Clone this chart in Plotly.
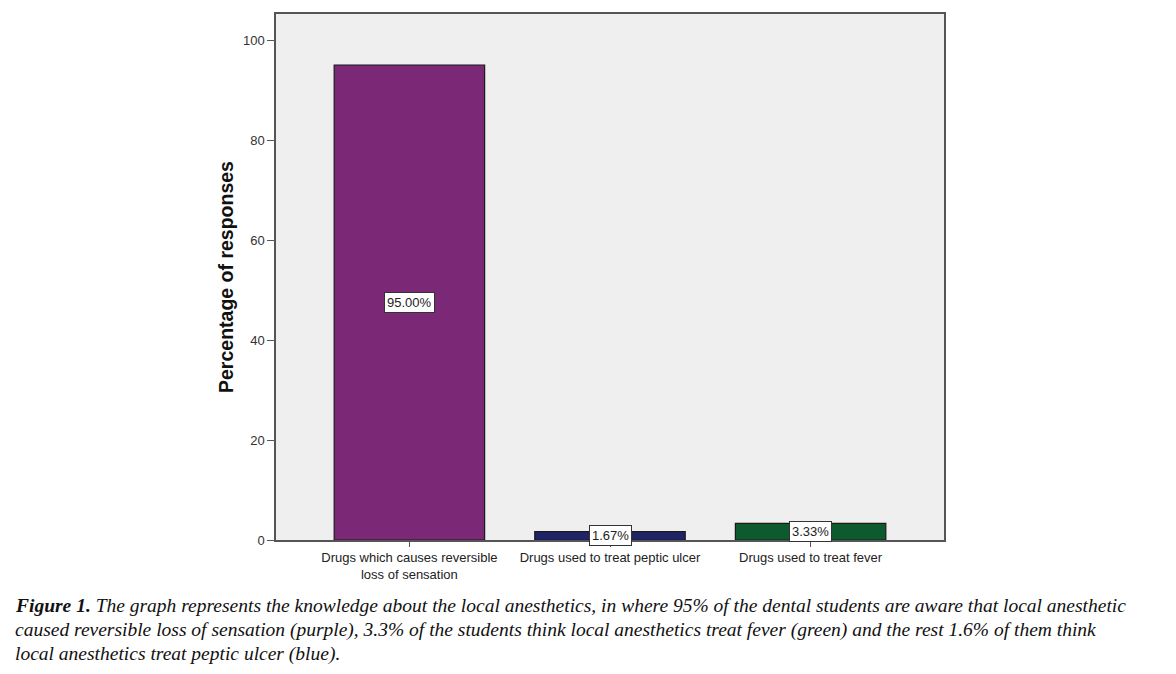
import plotly.graph_objects as go

categories = ["Drugs which causes reversible<br>loss of sensation",
              "Drugs used to treat peptic ulcer",
              "Drugs used to treat fever"]
values = [95.00, 1.67, 3.33]
labels = ["95.00%", "1.67%", "3.33%"]
colors = ["#7B2877", "#1F2468", "#0E5A2F"]
caption_lines = [
    "<b>Figure 1.</b> The graph represents the knowledge about the local anesthetics, in where 95% of the dental students are aware that local anesthetic",
    "caused reversible loss of sensation (purple), 3.3% of the students think local anesthetics treat fever (green) and the rest 1.6% of them think",
    "local anesthetics treat peptic ulcer (blue).",
]

W, H = 1176, 674
OFF = 8  # page body margin
L, R, T, B = 276 - OFF, 232 + OFF, 12 - OFF, 134 + OFF

fig = go.Figure()
fig.add_trace(go.Bar(
    x=list(range(len(categories))), y=values,
    marker=dict(color=colors, line=dict(color="#1a1a1a", width=1.2)),
    width=0.75, showlegend=False,
))

for i, (v, lab) in enumerate(zip(values, labels)):
    fig.add_annotation(
        x=i, y=max(v / 2, 0.7), text=lab, showarrow=False,
        font=dict(family="Arial, Liberation Sans", size=13, color="#222"),
        bgcolor="white", bordercolor="#333", borderwidth=1, borderpad=2,
    )

ys = [606, 630, 654]
for line, yp in zip(caption_lines, ys):
    fig.add_annotation(
        xref="paper", yref="paper",
        x=(13 - OFF - L) / (W - L - R), y=(H - B - (yp - OFF)) / (H - T - B),
        xanchor="left", yanchor="middle", showarrow=False, align="left",
        text="<i>" + line + "</i>",
        font=dict(family="Liberation Serif, Times New Roman", size=19.5, color="#111"),
    )

fig.update_layout(
    width=W, height=H,
    margin=dict(l=L, r=R, t=T, b=B, pad=0),
    paper_bgcolor="white", plot_bgcolor="#EFEFEF",
    xaxis=dict(
        range=[-0.665, 2.665],
        tickmode="array", tickvals=list(range(len(categories))), ticktext=categories,
        showgrid=False, zeroline=False,
        showline=True, linecolor="#555", linewidth=1.5, mirror=True,
        ticks="outside", ticklen=5, tickcolor="#555",
        tickfont=dict(family="Arial, Liberation Sans", size=13, color="#222"),
    ),
    yaxis=dict(
        range=[0, 105.2],
        tickvals=[0, 20, 40, 60, 80, 100],
        showgrid=False, zeroline=False,
        showline=True, linecolor="#555", linewidth=1.5, mirror=True,
        ticks="outside", ticklen=7, tickcolor="#555",
        tickfont=dict(family="Arial, Liberation Sans", size=13, color="#333"),
        title=dict(text="<b>Percentage of responses</b>", standoff=4,
                   font=dict(family="Arial, Liberation Sans", size=19.5, color="#111")),
    ),
)

fig.write_html("out.html")
